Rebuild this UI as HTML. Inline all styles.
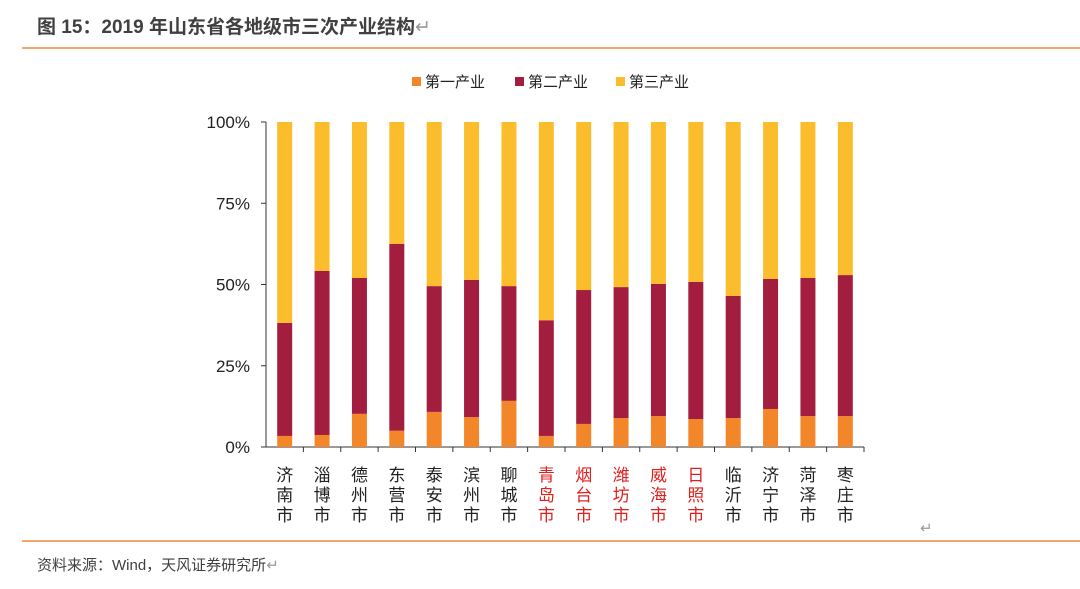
<!DOCTYPE html>
<html><head><meta charset="utf-8">
<style>
body{margin:0;width:1080px;height:589px;background:#fff;overflow:hidden;font-family:"Liberation Sans","Noto Sans CJK SC",sans-serif;}
#title{position:absolute;left:37px;top:12px;font-size:19px;font-weight:bold;color:#404040;}
.rule{position:absolute;left:22px;right:0;height:2px;background:#F5A46A;}
#src{position:absolute;left:37px;top:554px;font-size:15px;color:#404040;}
</style></head><body>
<div id="title">图 15：2019 年山东省各地级市三次产业结构<span style="color:#999;font-weight:normal">↵</span></div>
<div class="rule" style="top:47px"></div>
<div class="rule" style="top:540px"></div>
<div id="src">资料来源：Wind，天风证券研究所<span style="color:#999">↵</span></div>
<svg id="chart" width="1080" height="589" style="position:absolute;left:0;top:0"></svg>
<script>
const categories=["济南市","淄博市","德州市","东营市","泰安市","滨州市","聊城市","青岛市","烟台市","潍坊市","威海市","日照市","临沂市","济宁市","菏泽市","枣庄市"];
const redCities=["青岛市","烟台市","潍坊市","威海市","日照市"];
const primary=[3.4,3.7,10.2,5,10.8,9.2,14.2,3.4,7.1,8.9,9.5,8.6,8.9,11.7,9.5,9.5];
const secondary=[34.8,50.5,41.8,57.5,38.7,42.2,35.3,35.6,41.2,40.3,40.7,42.2,37.6,40.0,42.5,43.4];
const tertiary=[61.8,45.8,48,37.5,50.5,48.6,50.5,61,51.7,50.8,49.8,49.2,53.5,48.3,48,47.1];
const yTicks=[0,25,50,75,100];
const seriesNames=["第一产业","第二产业","第三产业"];
const colors=["#F4862A","#A31D3F","#FBBD2C"];
const NS="http://www.w3.org/2000/svg";
const svg=document.getElementById('chart');
const x0=266,x1=864,yTop=122,yBot=447,bw=15;
const step=(x1-x0)/categories.length;
const y=v=>yBot-(v/100)*(yBot-yTop);
const xc=i=>x0+step*(i+0.5);
function mk(t,a){const e=document.createElementNS(NS,t);for(const k in a)e.setAttribute(k,a[k]);svg.appendChild(e);return e;}
let ax=mk('line',{x1:x0,y1:yTop,x2:x0,y2:yBot,stroke:'#333','stroke-width':1});


yTicks.forEach(v=>{
  const tk=mk('line',{x1:x0-5,y1:y(v),x2:x0,y2:y(v),stroke:'#333'});
  
  
  const t=mk('text',{x:x0-16,y:y(v)+6,'text-anchor':'end','font-size':17,fill:'#222'});
  t.textContent=v+'%';
  
  
});
let xa=mk('line',{x1:x0,y1:yBot,x2:x1,y2:yBot,stroke:'#333'});


categories.forEach((c,i)=>{
  const vals=[primary[i],secondary[i],tertiary[i]];
  let cum=0;
  vals.forEach((v,s)=>{
    const r=mk('rect',{x:xc(i)-bw/2,y:y(cum+v),width:bw,height:y(cum)-y(cum+v),fill:colors[s]});
    
    
    cum+=v;
  });
  const tk=mk('line',{x1:x0+step*(i+1),y1:yBot,x2:x0+step*(i+1),y2:yBot+5,stroke:'#333'});
  
  
  [...c].forEach((ch,j)=>{
    const t=mk('text',{x:xc(i),y:481+j*20,'text-anchor':'middle','font-size':17,fill:redCities.includes(c)?'#E0201F':'#222'});
    t.textContent=ch;
    
    
  });
});
const lx=[412,515,616];
seriesNames.forEach((n,s)=>{
  const r=mk('rect',{x:lx[s],y:77,width:9,height:9,fill:colors[s]});
  
  
  const t=mk('text',{x:lx[s]+13,y:87,'font-size':15,fill:'#222'});
  t.textContent=n;
  
  
});
const rt=mk('text',{x:920,y:533,'font-size':15,fill:'#999'});
rt.textContent='↵';


</script>
</body></html>
